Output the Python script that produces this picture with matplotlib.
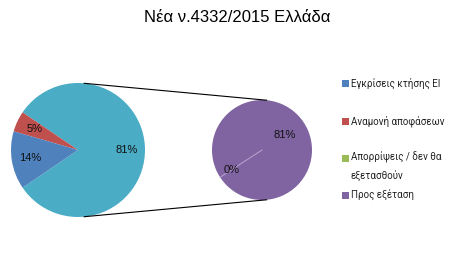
import numpy as np
import matplotlib
matplotlib.use("Agg")
import matplotlib.pyplot as plt
from matplotlib.patches import Rectangle

plt.rcParams['font.family'] = ['Liberation Sans', 'DejaVu Sans']
LEGFONT = ['Roboto', 'Liberation Sans', 'DejaVu Sans']

title = "Νέα ν.4332/2015 Ελλάδα"
categories = ["Εγκρίσεις κτήσης ΕΙ", "Αναμονή αποφάσεων",
              "Απορρίψεις / δεν θα\nεξετασθούν", "Προς εξέταση"]
values = [14, 5, 0, 81]
colors = ["#4F81BD", "#C0504D", "#9BBB59", "#8064A2"]
other_color = "#4BACC6"

W, H = 474, 261
fig = plt.figure(figsize=(W / 100, H / 100), dpi=100)
ax = fig.add_axes([0, 0, 1, 1])

total = sum(values)
other = values[2] + values[3]
# main pie
c1, r1 = (78, 111), 67
start1 = -other / total * 180
main_vals = [other, values[1], values[0]]
main_cols = [other_color, colors[1], colors[0]]
w1, _ = ax.pie(main_vals, colors=main_cols, center=c1, radius=r1,
               startangle=start1, counterclock=True, frame=True,
               wedgeprops=dict(linewidth=0))
for w, v in zip(w1, main_vals):
    ang = np.deg2rad((w.theta1 + w.theta2) / 2)
    d = 0.72 * r1
    ax.text(c1[0] + d * np.cos(ang), c1[1] + d * np.sin(ang), f"{round(v / total * 100)}%",
            ha='center', va='center', fontsize=8, color='#111111')

# secondary pie
c2, r2 = (262, 111), 50
sec_vals = [values[2], values[3]]
w2, _ = ax.pie(sec_vals, colors=[colors[2], colors[3]], center=c2, radius=r2,
               startangle=213, counterclock=True, frame=True,
               wedgeprops=dict(linewidth=0))
a0 = np.deg2rad(w2[0].theta1)
ax.plot([c2[0], c2[0] + r2 * np.cos(a0)], [c2[1], c2[1] + r2 * np.sin(a0)],
        color='#b8a6cf', lw=0.7, zorder=5)
for w, v, dist in zip(w2, sec_vals, [0.72, 0.55]):
    ang = np.deg2rad((w.theta1 + w.theta2) / 2)
    d = dist * r2
    ax.text(c2[0] + d * np.cos(ang), c2[1] + d * np.sin(ang), f"{round(v / total * 100)}%",
            ha='center', va='center', fontsize=8, color='#111111', zorder=6)

ax.set_xlim(0, W)
ax.set_ylim(0, H)
ax.set_aspect('equal')
ax.axis('off')

# connector lines (external tangents)
dx = c2[0] - c1[0]
phi = np.arcsin((r1 - r2) / dx)
for s in (1, -1):
    a = s * (np.pi / 2 - phi)
    ax.plot([c1[0] + r1 * np.cos(a), c2[0] + r2 * np.cos(a)],
            [c1[1] + r1 * np.sin(a), c2[1] + r2 * np.sin(a)],
            color='black', lw=0.8)

# title
fig.text(237 / W, 1 - 18 / H, title, ha='center', va='center', fontsize=12)

# legend
rows = [83, 121, 158, 195]
for lab, col, y in zip(categories, colors, rows):
    ax.add_patch(Rectangle((342, H - y - 3.5), 7, 7, color=col, lw=0))
    if '\n' in lab:
        ax.text(351, H - y + 6, lab, ha='left', va='top', fontsize=7,
                color='#222222', linespacing=1.75, family=LEGFONT)
    else:
        ax.text(351, H - y, lab, ha='left', va='center', fontsize=7,
                color='#222222', family=LEGFONT)

fig.savefig("out.png", dpi=100)
